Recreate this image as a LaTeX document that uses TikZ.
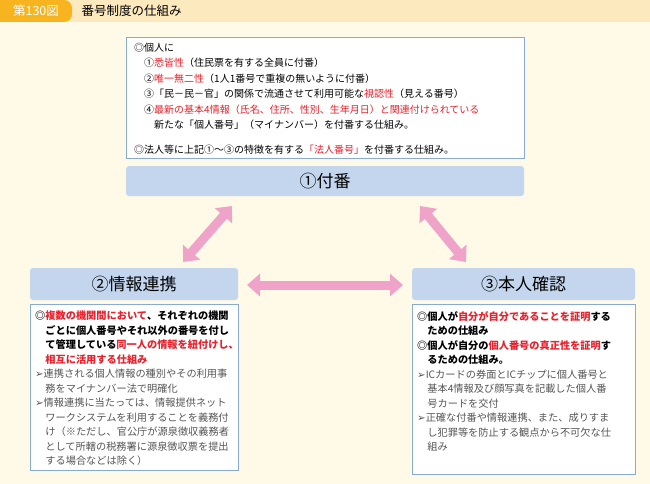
\documentclass[tikz,border=0pt]{standalone}
\usepackage{fontspec}
\setmainfont{Noto Sans CJK JP}
\newfontfamily\symfont{DejaVu Sans}
\usetikzlibrary{arrows.meta}
\definecolor{bgcream}{HTML}{FFFAE8}
\definecolor{tabor}{HTML}{F7B41E}
\definecolor{titlebar}{HTML}{FDE9BE}
\definecolor{headblue}{HTML}{C3D6EE}
\definecolor{framblue}{HTML}{8AAAD6}
\definecolor{arrowpink}{HTML}{EFA3C9}
\definecolor{keyred}{HTML}{E8212C}
\definecolor{subgray}{HTML}{555555}
\newcommand{\kr}[1]{\textcolor{keyred}{#1}}
\newcommand{\bul}{{\symfont ➢}}

\begin{document}
\begin{tikzpicture}[x=1pt,y=-1pt,
  headbar/.style={fill=headblue,rounded corners=3pt,font=\fontsize{17}{20}\selectfont},
  textbox/.style={draw=framblue,line width=1pt,fill=white},
  bodytext/.style={anchor=north west,align=left,inner sep=0pt,font=\fontsize{10}{15.4}\selectfont},
  sidetext/.style={bodytext,font=\fontsize{10.2}{14.5}\selectfont\bfseries},
  linkarrow/.style={arrowpink,line width=9pt,{Triangle[width=22pt,length=13pt]}-{Triangle[width=22pt,length=13pt]}}]
  \fill[bgcream] (0,0) rectangle (650,484);
  \useasboundingbox (0,0) rectangle (650,484);
  % header
  \fill[titlebar] (60,0) rectangle (650,22);
  \fill[tabor,rounded corners=8pt] (0,0) -- (72,0) -- (72,22) -- (0,22) -- cycle;
  \fill[tabor] (0,0) rectangle (20,22);
  \node[text=white,font=\fontsize{12.5}{14}\selectfont] (fig) at (36,11) {第130図};
  \node[anchor=west,font=\fontsize{12.5}{14}\selectfont] (title) at (78,11) {番号制度の仕組み};
  % top box
  \draw[textbox] (126,38) rectangle (524,158);
  \node[bodytext] (toptext) at (134,43) {◎個人に\\
    \hspace{1em}①\kr{悉皆性}（住民票を有する全員に付番）\\
    \hspace{1em}②\kr{唯一無二性}（1人1番号で重複の無いように付番）\\
    \hspace{1em}③「民－民－官」の関係で流通させて利用可能な\kr{視認性}（見える番号）\\
    \hspace{1em}④\kr{最新の基本4情報（氏名、住所、性別、生年月日）と関連付けられている}\\
    \hspace{2em}新たな「個人番号」（マイナンバー）を付番する仕組み。\\[10pt]
    ◎法人等に上記①～③の特徴を有する\kr{「法人番号」}を付番する仕組み。};
  % heading bars
  \node[headbar,minimum width=398pt,minimum height=30pt] (fuban) at (325,181) {①付番};
  \node[headbar,minimum width=208pt,minimum height=32pt] (renkei) at (134,284) {②情報連携};
  \node[headbar,minimum width=223pt,minimum height=32pt] (kakunin) at (523.5,284) {③本人確認};
  % arrows
  \draw[linkarrow] (183,262) -- (232,206);
  \draw[linkarrow] (420,206) -- (466,262);
  \draw[linkarrow] (247,285) -- (403,285);
  % left box
  \draw[textbox] (30,304) rectangle (238,470);
  \node[sidetext] (lefttext) at (35,311) {%
    ◎\kr{複数の機関間において}、それぞれの機関\\
    \hspace{1em}ごとに個人番号やそれ以外の番号を付し\\
    \hspace{1em}て管理している\kr{同一人の情報を紐付けし、}\\
    \hspace{1em}\kr{相互に活用する仕組み}\\
    \mdseries\color{subgray}\bul 連携される個人情報の種別やその利用事\\
    \mdseries\color{subgray}\hspace{1em}務をマイナンバー法で明確化\\
    \mdseries\color{subgray}\bul 情報連携に当たっては、情報提供ネット\\
    \mdseries\color{subgray}\hspace{1em}ワークシステムを利用することを義務付\\
    \mdseries\color{subgray}\hspace{1em}け（※ただし、官公庁が源泉徴収義務者\\
    \mdseries\color{subgray}\hspace{1em}として所轄の税務署に源泉徴収票を提出\\
    \mdseries\color{subgray}\hspace{1em}する場合などは除く）};
  % right box
  \draw[textbox] (412,304) rectangle (635,474);
  \node[sidetext] (righttext) at (417,311) {%
    ◎個人が\kr{自分が自分であることを証明}する\\
    \hspace{1em}ための仕組み\\
    ◎個人が自分の\kr{個人番号の真正性を証明}す\\
    \hspace{1em}るための仕組み。\\
    \mdseries\color{subgray}\bul ICカードの券面とICチップに個人番号と\\
    \mdseries\color{subgray}\hspace{1em}基本4情報及び顔写真を記載した個人番\\
    \mdseries\color{subgray}\hspace{1em}号カードを交付\\
    \mdseries\color{subgray}\bul 正確な付番や情報連携、また、成りすま\\
    \mdseries\color{subgray}\hspace{1em}し犯罪等を防止する観点から不可欠な仕\\
    \mdseries\color{subgray}\hspace{1em}組み};
\end{tikzpicture}
\end{document}
